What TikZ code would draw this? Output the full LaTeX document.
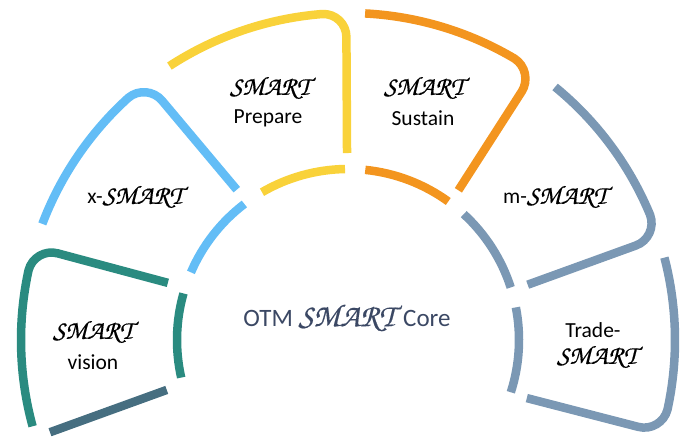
\documentclass[tikz,border=0pt]{standalone}
\usepackage{fontspec}
\setmainfont{Carlito}
\newfontfamily\scr[FakeBold=0.4]{texgyrechorus-mediumitalic.otf}
\usetikzlibrary{calc}
\definecolor{cteal}{RGB}{42,139,128}
\definecolor{cdark}{RGB}{70,110,128}
\definecolor{cblue}{RGB}{99,189,246}
\definecolor{cyellow}{RGB}{249,210,58}
\definecolor{corange}{RGB}{243,149,31}
\definecolor{cslate}{RGB}{123,152,180}
\definecolor{ccore}{RGB}{59,72,100}
\def\Ro{327pt}
\def\Ri{171pt}
\def\rca{4.2}
\def\rcr{24pt}
\newcommand\otmpiece[6]{%
  \coordinate (#6K) at ($(C)+(#3:\Ro)$);
  \coordinate (#6S) at ($(C)+(#4:#5)$);
  \coordinate (#6A) at ($(C)+({#3+\rca}:\Ro)$);
  \coordinate (#6B) at ($(#6K)!\rcr!(#6S)$);
  \draw[seg,#1] ($(C)+(#2:\Ro)$) arc[start angle=#2, end angle={#3+\rca}, radius=\Ro]
    .. controls ($(#6A)!0.55!(#6K)$) and ($(#6B)!0.55!(#6K)$) .. (#6B) -- (#6S);
}
\newcommand\otminner[3]{%
  \draw[seg,#1] ($(C)+(#2:\Ri)$) arc[start angle=#2, end angle=#3, radius=\Ri];
}
\newcommand\smart[1]{{\scr\fontsize{#1}{#1}\selectfont SMART}}
\begin{document}
\begin{tikzpicture}[x=1pt,y=1pt,
  seg/.style={line width=8.5pt},
  lbl/.style={font=\fontsize{21.5}{24}\selectfont, text=black, inner sep=0pt}]
\useasboundingbox (0,0) rectangle (685,439);
\coordinate (C) at (348,99);
% inner arcs
\otminner{cteal}{192.7}{164.2}
\otminner{cblue}{156.7}{127.3}
\otminner{cyellow}{120.2}{91}
\otminner{corange}{84.2}{54.1}
\otminner{cslate}{47.4}{17.9}
\otminner{cslate}{11}{-17.8}
% outer pieces
\otmpiece{cteal}{195.3}{163.5}{162.4}{189pt}{t}
\otmpiece{cblue}{159.2}{128}{126.5}{187pt}{b}
\otmpiece{cyellow}{123.1}{90.3}{90.3}{187pt}{y}
\otmpiece{corange}{87}{55.2}{53.6}{186pt}{o}
\otmpiece{cslate}{50.7}{18.3}{17.1}{188pt}{m}
\otmpiece{cslate}{14.6}{-16.5}{-18}{188pt}{r}
\draw[seg,cdark] ($(C)+(195.4:188pt)$) -- ($(C)+(197.2:312pt)$);
% labels
\node[lbl] (vs) at (93,107) {\smart{26.5}};
\node[lbl] (vv) at (93,77) {vision};
\node[lbl] (xs) at (135,242) {x-\smart{26.5}};
\node[lbl] (ps) at (270,351) {\smart{26.5}};
\node[lbl] (pp) at (268,321) {Prepare};
\node[lbl] (ss) at (424,351) {\smart{26.5}};
\node[lbl] (su) at (423,321) {Sustain};
\node[lbl] (ms) at (555,242) {m-\smart{26.5}};
\node[lbl] (td) at (593,109) {Trade-};
\node[lbl] (ts) at (597,82) {\smart{26.5}};
\node[lbl,text=ccore,font=\fontsize{25}{28}\selectfont] (core) at (347,121) {OTM \smart{32}\hspace{8pt}Core};
\end{tikzpicture}
\end{document}
